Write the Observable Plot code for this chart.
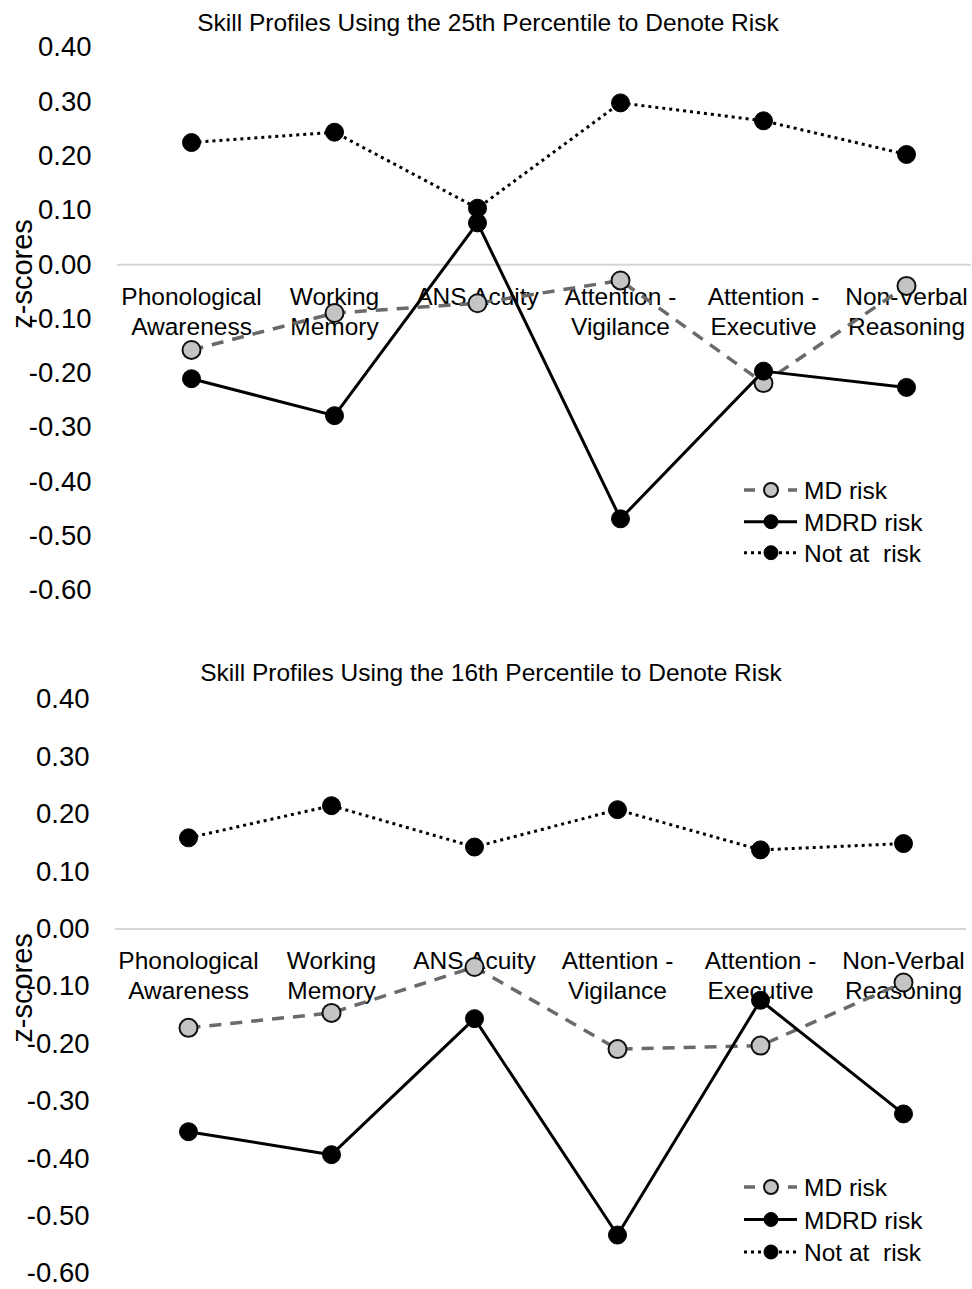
<!DOCTYPE html>
<html><head><meta charset="utf-8">
<script src="https://cdn.jsdelivr.net/npm/d3@7"></script>
<script src="https://cdn.jsdelivr.net/npm/@observablehq/plot@0.6"></script>
<style>
body{margin:0;background:#fff;font-family:"Liberation Sans",Arial,sans-serif;}
#wrap{position:relative;width:972px;height:1289px;overflow:hidden;background:#fff;}
.panel{position:absolute;left:0;}
#overlay{position:absolute;left:0;top:0;pointer-events:none;}
</style></head><body><div id="wrap"></div>
<script>
// ---- data ----
const categories = ["Phonological Awareness","Working Memory","ANS Acuity","Attention - Vigilance","Attention - Executive","Non-Verbal Reasoning"];
const categoryLabels = ["Phonological\nAwareness","Working\nMemory","ANS Acuity","Attention -\nVigilance","Attention -\nExecutive","Non-Verbal\nReasoning"];
const seriesNames = ["MD risk","MDRD risk","Not at  risk"];
const yTicks = [0.4,0.3,0.2,0.1,0,-0.1,-0.2,-0.3,-0.4,-0.5,-0.6];
const titles = ["Skill Profiles Using the 25th Percentile to Denote Risk","Skill Profiles Using the 16th Percentile to Denote Risk"];
const yLabel = "z-scores";

const p25_MD        = [-0.157,-0.089,-0.071,-0.029,-0.218,-0.039];
const p25_MDRD      = [-0.210,-0.278, 0.077,-0.468,-0.196,-0.226];
const p25_NotAtRisk = [ 0.225, 0.244, 0.104, 0.298, 0.265, 0.203];

const p16_MD        = [-0.172,-0.146,-0.066,-0.209,-0.203,-0.093];
const p16_MDRD      = [-0.353,-0.393,-0.156,-0.533,-0.124,-0.322];
const p16_NotAtRisk = [ 0.159, 0.215, 0.143, 0.208, 0.138, 0.149];

// ---- styles ----
const styles = {
  "MD risk":      {stroke:"#6a6a6a", width:3.5, dash:"12,9", fill:"#c4c4c4", dotStroke:"#111", dotStrokeWidth:2},
  "MDRD risk":    {stroke:"#000", width:3, dash:null, fill:"#000", dotStroke:"#000", dotStrokeWidth:1},
  "Not at  risk": {stroke:"#000", width:3, dash:"3,4", fill:"#000", dotStroke:"#000", dotStrokeWidth:1}
};
const FONT = "Liberation Sans, Arial, sans-serif";
const wrap = document.getElementById("wrap");

function makePanel(cfg){
  const series = [cfg.md, cfg.mdrd, cfg.nar];
  const rows = [];
  seriesNames.forEach((s,si)=>categories.forEach((c,ci)=>rows.push({series:s, category:c, value:series[si][ci]})));
  const marks = [
    Plot.ruleY([0], {stroke:"#d6d6d6", strokeWidth:2}),
    Plot.axisY(yTicks, {tickSize:0, tickPadding:26, tickFormat:d=>d.toFixed(2), fontSize:27.5, label:null}),
    Plot.text(categories, {x:d=>d, y:()=>0, text:(d,i)=>categoryLabels[i], lineAnchor:"top", dy:19, fontSize:24.5, lineHeight:1.22, fill:"#000"})
  ];
  seriesNames.forEach(s=>{
    const st = styles[s];
    const data = rows.filter(r=>r.series===s);
    marks.push(Plot.line(data, {x:"category", y:"value", stroke:st.stroke, strokeWidth:st.width, strokeDasharray:st.dash, strokeLinecap:"butt", strokeLinejoin:"miter"}));
    marks.push(Plot.dot(data, {x:"category", y:"value", r:9, fill:st.fill, stroke:st.dotStroke, strokeWidth:st.dotStrokeWidth}));
  });
  const plot = Plot.plot({
    width:972, height:cfg.height,
    marginTop:cfg.mTop, marginBottom:cfg.mBottom, marginLeft:cfg.mLeft, marginRight:cfg.mRight,
    style:{fontFamily:FONT, background:"transparent", overflow:"visible", color:"#000"},
    x:{type:"point", domain:categories, range:cfg.xRange, padding:0, axis:null},
    y:{domain:[-0.6,0.4], nice:false, axis:null},
    marks
  });
  plot.classList.add("panel");
  plot.style.top = cfg.top + "px";
  wrap.appendChild(plot);
}

makePanel({md:p25_MD, mdrd:p25_MDRD, nar:p25_NotAtRisk, top:0, height:640, mTop:47, mBottom:50, mLeft:117, mRight:1, xRange:[189,908]});
makePanel({md:p16_MD, mdrd:p16_MDRD, nar:p16_NotAtRisk, top:640, height:649, mTop:59, mBottom:16, mLeft:115, mRight:6, xRange:[187,904]});

// ---- overlay: titles, y labels, legends ----
const svg = d3.select(wrap).append("svg").attr("id","overlay").attr("width",972).attr("height",1289)
  .style("font-family", FONT);
const deco = [
  {title:titles[0], tx:488, ty:31, ly:274, legendY:[490,521.7,552.7]},
  {title:titles[1], tx:491, ty:680.5, ly:988, legendY:[1187,1219.5,1252]}
];
deco.forEach(dd=>{
  svg.append("text").attr("x",dd.tx).attr("y",dd.ty).attr("text-anchor","middle")
    .attr("font-size",24.5).attr("fill","#000").text(dd.title);
  svg.append("text").attr("transform",`translate(32,${dd.ly}) rotate(-90)`).attr("text-anchor","middle")
    .attr("font-size",29).attr("fill","#000").text(yLabel);
  seriesNames.forEach((s,i)=>{
    const st = styles[s]; const y = dd.legendY[i];
    svg.append("line").attr("x1",744).attr("x2",797).attr("y1",y).attr("y2",y)
      .attr("stroke",st.stroke).attr("stroke-width",st.width)
      .attr("stroke-dasharray", s==="MD risk" ? "11,11" : st.dash);
    svg.append("circle").attr("cx",771).attr("cy",y).attr("r",7)
      .attr("fill",st.fill).attr("stroke",st.dotStroke).attr("stroke-width",st.dotStrokeWidth);
    svg.append("text").attr("x",804).attr("y",y+9).attr("font-size",24.5).attr("fill","#000")
      .style("white-space","pre").attr("xml:space","preserve").text(s);
  });
});
</script></body></html>
